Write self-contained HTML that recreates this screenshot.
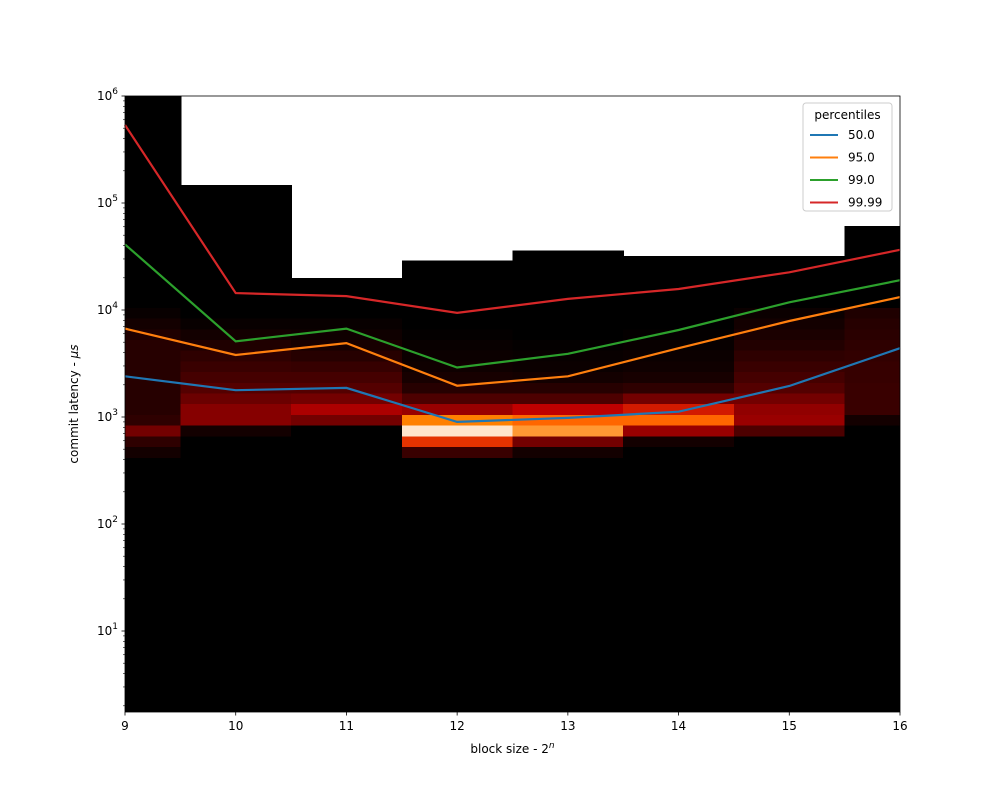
<!DOCTYPE html>
<html><head><meta charset="utf-8"><style>
body{margin:0;background:#fff;font-family:"Liberation Sans","DejaVu Sans",sans-serif;}
svg text{font-family:"DejaVu Sans","Liberation Sans",sans-serif;}
</style></head><body>
<svg id="chart" width="1000" height="800" xmlns="http://www.w3.org/2000/svg">
<g id="heat" shape-rendering="crispEdges"></g>
<g id="lines"></g>
<g id="axes"></g>
<g id="legend"></g>
</svg>
<script>
const blockSizes = [9,10,11,12,13,14,15,16];
const columnTops = [1e6,1.48e5,2.0e4,2.9e4,3.6e4,3.2e4,3.2e4,6.1e4];
const binTopLog = 4.02, binStep = 0.1;
const heatCol9  = [0.02,0.05,0.08,0.1,0.1,0.1,0.1,0.1,0.1,0.1,0.12,0.3,0.12,0.05];
const heatCol10 = [0,0.02,0.05,0.08,0.12,0.15,0.18,0.22,0.28,0.35,0.35,0.05,0,0];
const heatCol11 = [0,0.02,0.04,0.06,0.1,0.14,0.18,0.22,0.3,0.45,0.3,0,0,0];
const heatCol12 = [0,0,0.01,0.02,0.03,0.04,0.06,0.1,0.2,0.4,0.75,0.95,0.6,0.15];
const heatCol13 = [0,0,0,0.01,0.02,0.03,0.05,0.1,0.2,0.5,0.7,0.8,0.3,0.05];
const heatCol14 = [0,0,0.01,0.02,0.03,0.04,0.06,0.12,0.3,0.55,0.7,0.4,0.05,0];
const heatCol15 = [0.03,0.05,0.07,0.09,0.12,0.15,0.18,0.22,0.3,0.38,0.4,0.2,0,0];
const heatCol16 = [0.08,0.1,0.11,0.12,0.13,0.14,0.14,0.15,0.15,0.15,0.05,0,0,0];
const heatCols = [heatCol9,heatCol10,heatCol11,heatCol12,heatCol13,heatCol14,heatCol15,heatCol16];
const p50   = [2400,1780,1870,900,980,1120,1950,4400];
const p95   = [6700,3800,4900,1960,2400,4400,7900,13200];
const p99   = [41000,5100,6700,2900,3900,6500,11800,19000];
const p9999 = [536000,14400,13500,9400,12700,15700,22500,36500];
const seriesNames = ["50.0","95.0","99.0","99.99"];
const seriesColors = ["#1f77b4","#ff7f0e","#2ca02c","#d62728"];
const seriesData = [p50,p95,p99,p9999];
const yTickExp = [1,2,3,4,5,6];

const L=125,R=900,T=96,B=712, yMinLog=6-(B-T)/107;
const NS="http://www.w3.org/2000/svg";
const xS = v => L + (v-9)/(16-9)*(R-L);
const yS = v => T + (6-Math.log10(v))*(B-T)/(6-yMinLog);
const yL = lg => T + (6-lg)*(B-T)/(6-yMinLog);
function mk(tag,attrs,parent){const e=document.createElementNS(NS,tag);for(const k in attrs)e.setAttribute(k,attrs[k]);parent.appendChild(e);return e;}
function heat(x){const r=Math.min(1,1.5*x),g=Math.max(0,Math.min(1,2*x-1)),b=Math.max(0,Math.min(1,4*x-3));return `rgb(${Math.round(r*255)},${Math.round(g*255)},${Math.round(b*255)})`;}

const hg=document.getElementById('heat');
blockSizes.forEach((n,i)=>{
  const x0=Math.max(L,xS(n-0.5)), x1=Math.min(R,xS(n+0.5)+1);
  const col=mk('rect',{x:x0,y:yS(columnTops[i]),width:x1-x0,height:B-yS(columnTops[i]),fill:'#000'},hg);
  
  
  heatCols[i].forEach((v,j)=>{
    const ya=yL(binTopLog-j*binStep), yb=yL(binTopLog-(j+1)*binStep);
    const c=mk('rect',{x:x0,y:ya,width:Math.min(R,x1)-x0,height:yb-ya+0.5,fill:heat(v)},hg);
    
    
  });
});

const lg=document.getElementById('lines');
seriesData.forEach((d,s)=>{
  const pts=d.map((v,i)=>xS(blockSizes[i]).toFixed(1)+','+yS(v).toFixed(1)).join(' ');
  const pl=mk('polyline',{points:pts,fill:'none',stroke:seriesColors[s],'stroke-width':2.2},lg);
  
  
});

const ax=document.getElementById('axes');
const fr=mk('rect',{x:L,y:T,width:R-L,height:B-T,fill:'none',stroke:'#000','stroke-width':0.8},ax);


blockSizes.forEach(n=>{
  const x=xS(n);
  mk('line',{x1:x,x2:x,y1:B,y2:B+3.5,stroke:'#000','stroke-width':0.8},ax);
  const t=mk('text',{x:x,y:B+18,'text-anchor':'middle','font-size':12},ax);
  t.textContent=n;
  
  
});
for(let e=0;e<=6;e++){for(let m=1;m<10;m++){const v=m*Math.pow(10,e);const y=yS(v);if(y<T-0.1||y>B)continue;
  mk('line',{x1:L,x2:L-(m===1?3.5:2),y1:y,y2:y,stroke:'#000','stroke-width':m===1?0.8:0.6},ax);}}
yTickExp.forEach(e=>{
  const y=yS(Math.pow(10,e));
  const t=mk('text',{x:L-7,y:y+4,'text-anchor':'end','font-size':12},ax);
  t.innerHTML='10<tspan dy="-6" font-size="9">'+e+'</tspan>';
  
  
});
const xt=mk('text',{x:(L+R)/2,y:B+41,'text-anchor':'middle','font-size':12},ax);
xt.innerHTML='block size - 2<tspan dy="-5" font-size="9" font-style="italic">n</tspan>';


const yt=mk('text',{x:78,y:(T+B)/2,'text-anchor':'middle','font-size':12,transform:`rotate(-90 78 ${(T+B)/2})`},ax);
yt.innerHTML='commit latency - <tspan font-style="italic">μs</tspan>';



const lgd=document.getElementById('legend');
const box=mk('rect',{x:803,y:103,width:89,height:108,rx:3,fill:'#fff','fill-opacity':0.8,stroke:'#ccc'},lgd);


const lt=mk('text',{x:847.5,y:119,'text-anchor':'middle','font-size':12},lgd);
lt.textContent='percentiles';


seriesNames.forEach((nm,s)=>{
  const y=135+s*22.5;
  const g=mk('g',{},lgd);
  
  
  mk('line',{x1:810,x2:838,y1:y,y2:y,stroke:seriesColors[s],'stroke-width':2},g);
  const t=mk('text',{x:848,y:y+4,'font-size':12},g);
  t.textContent=nm;
});
</script>
</body></html>
